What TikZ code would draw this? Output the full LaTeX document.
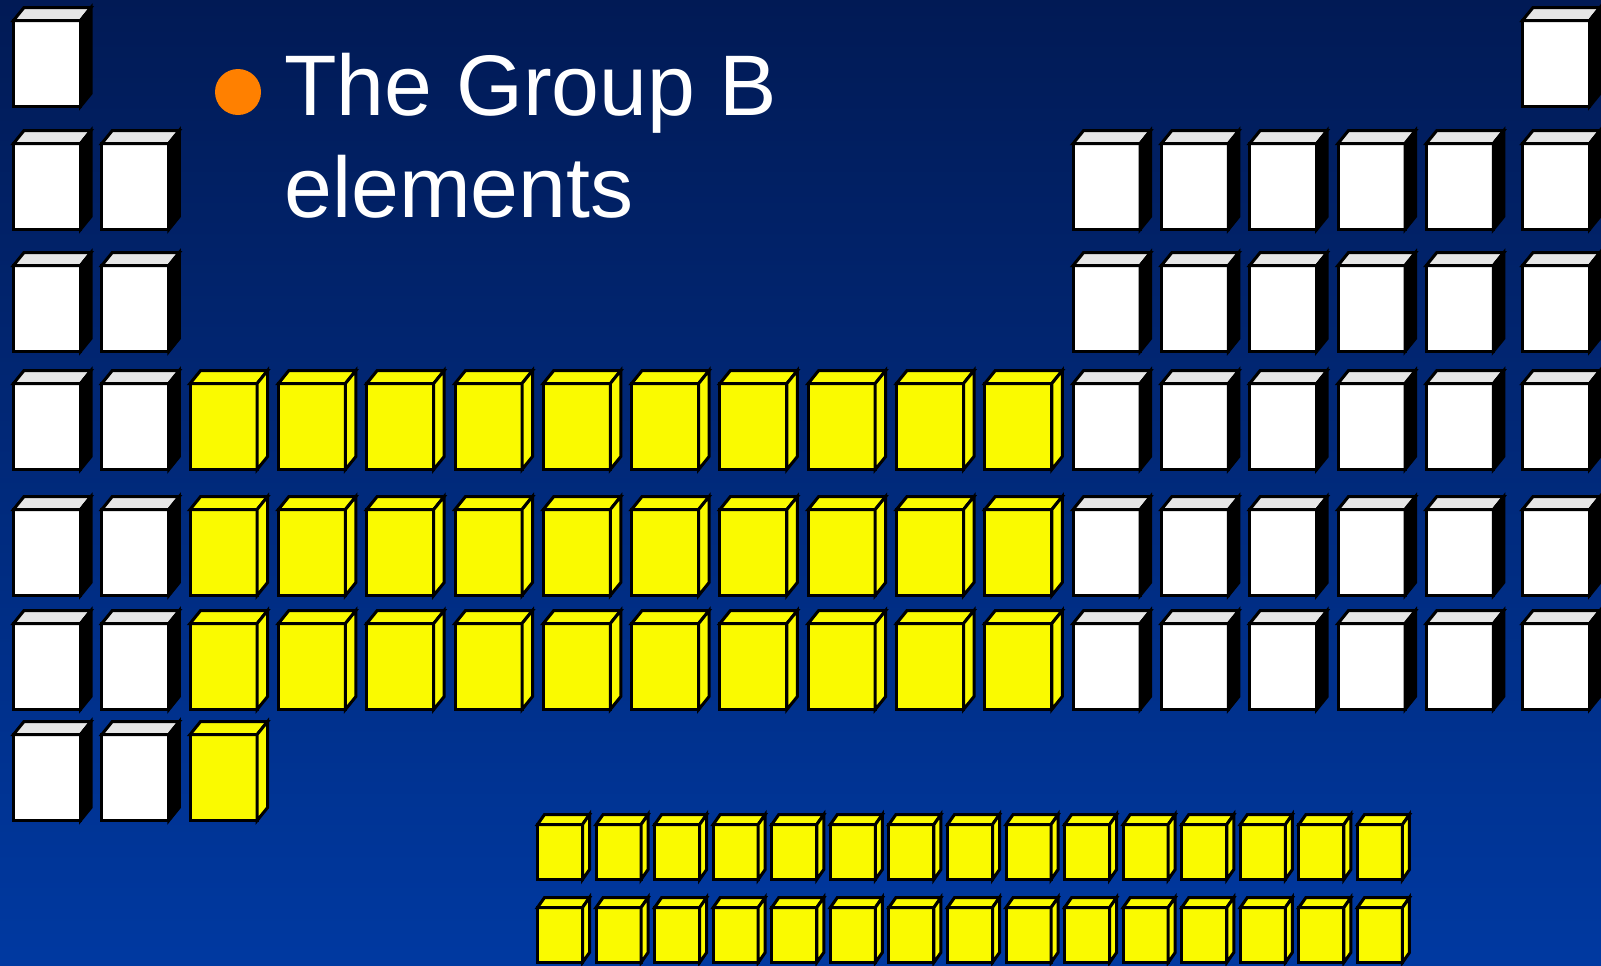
\documentclass[tikz,border=0pt]{standalone}
\usepackage{fontspec}
\setmainfont{Liberation Sans}
\newfontfamily\slidefont{Liberation Sans}
\usetikzlibrary{positioning}
\definecolor{slidetop}{RGB}{1,26,85}
\definecolor{slidebot}{RGB}{0,57,161}
\definecolor{lidgray}{RGB}{230,230,230}
\definecolor{elemyellow}{RGB}{250,250,0}
\definecolor{bulletorange}{RGB}{255,128,0}

\begin{document}
\begin{tikzpicture}[
    x=.5pt, y=-.5pt,
    whitecell/.style={draw, line width=1.5pt, inner sep=0pt, outer sep=0pt,
      minimum width=33.5pt, minimum height=43pt, fill=white},
    yellowcell/.style={draw, line width=1.5pt, inner sep=0pt, outer sep=0pt,
      minimum width=33.5pt, minimum height=43pt, fill=elemyellow},
    fcell/.style={draw, line width=1.5pt, inner sep=0pt, outer sep=0pt,
      minimum width=22.5pt, minimum height=27.5pt, fill=elemyellow},
    face/.style={draw, line width=1.5pt, line join=miter},
    slidetext/.style={text=white, inner sep=0pt, anchor=base west,
      font=\slidefont\fontsize{43}{51}\selectfont}
  ]
    \useasboundingbox (0,0) rectangle (1601,965);
    \shade[top color=slidetop, bottom color=slidebot] (0,0) rectangle (1601,965);

    % bullet and title
    \fill[bulletorange] (238,92) circle [radius=23];
    \node[slidetext] (title) at (284,115) {The Group B};
    \node[slidetext] (title2) at (284,217) {elements};

    % main table, white cells
    \foreach \r/\y/\cols in {1/63.5/{0,17}, 2/186.5/{0,1,12,13,14,15,16,17},
        3/308.5/{0,1,12,13,14,15,16,17}, 4/426.5/{0,1,12,13,14,15,16,17},
        5/552.5/{0,1,12,13,14,15,16,17}, 6/666.5/{0,1,12,13,14,15,16,17},
        7/777.5/{0,1}} {
      \foreach \c in \cols {
        \pgfmathsetmacro\x{\c==17 ? 1556 : 47+88.3*\c}
        \node[whitecell] (w\r-\c) at (\x,\y) {};
        \draw[face, fill=lidgray] (w\r-\c.north west) -- ++(10.5,-13)
          -- ++(67,0) -- (w\r-\c.north east) -- cycle;
        \draw[face, fill=black] (w\r-\c.north east) -- ++(10.5,-13)
          -- ++(0,86) -- (w\r-\c.south east) -- cycle;
      }
    }

    % main table, group B cells
    \foreach \r/\y/\cols in {4/426.5/{2,...,11}, 5/552.5/{2,...,11},
        6/666.5/{2,...,11}, 7/777.5/{2}} {
      \foreach \c in \cols {
        \pgfmathsetmacro\x{47+88.3*\c}
        \node[yellowcell] (y\r-\c) at (\x,\y) {};
        \draw[face, fill=elemyellow] (y\r-\c.north west) -- ++(10.5,-13)
          -- ++(67,0) -- (y\r-\c.north east) -- cycle;
        \draw[face, fill=elemyellow] (y\r-\c.north east) -- ++(10.5,-13)
          -- ++(0,86) -- (y\r-\c.south east) -- cycle;
      }
    }

    % the two rows underneath
    \foreach \r/\y in {a/852, b/935} {
      \foreach \k in {0,...,14} {
        \pgfmathsetmacro\x{560+58.57*\k}
        \node[fcell] (f\r-\k) at (\x,\y) {};
        \draw[face, fill=elemyellow] (f\r-\k.north west) -- ++(7,-10)
          -- ++(45,0) -- (f\r-\k.north east) -- cycle;
        \draw[face, fill=elemyellow] (f\r-\k.north east) -- ++(7,-10)
          -- ++(0,55) -- (f\r-\k.south east) -- cycle;
      }
    }
  \end{tikzpicture}
\end{document}
